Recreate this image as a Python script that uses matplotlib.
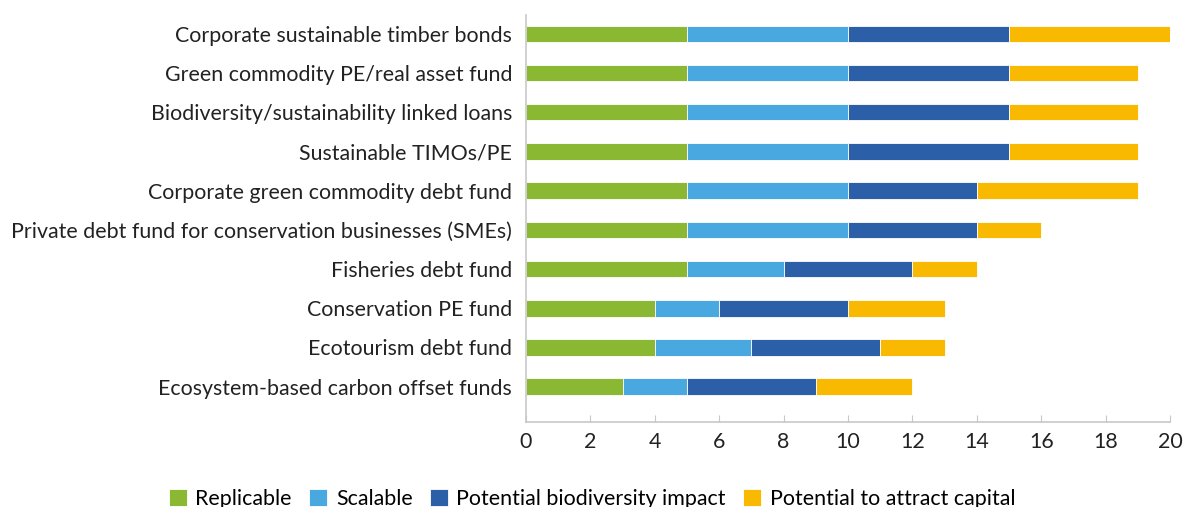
import numpy as np
import matplotlib.pyplot as plt

plt.rcParams['font.family'] = ['Lato', 'DejaVu Sans']

categories = [
    "Corporate sustainable timber bonds",
    "Green commodity PE/real asset fund",
    "Biodiversity/sustainability linked loans",
    "Sustainable TIMOs/PE",
    "Corporate green commodity debt fund",
    "Private debt fund for conservation businesses (SMEs)",
    "Fisheries debt fund",
    "Conservation PE fund",
    "Ecotourism debt fund",
    "Ecosystem-based carbon offset funds",
]
replicable = [5, 5, 5, 5, 5, 5, 5, 4, 4, 3]
scalable = [5, 5, 5, 5, 5, 5, 3, 2, 3, 2]
biodiversity = [5, 5, 5, 5, 4, 4, 4, 4, 4, 4]
capital = [5, 4, 4, 4, 5, 2, 2, 3, 2, 3]

series = [
    ("Replicable", replicable, "#8ab833"),
    ("Scalable", scalable, "#4aa8e0"),
    ("Potential biodiversity impact", biodiversity, "#2b5fa8"),
    ("Potential to attract capital", capital, "#f9b900"),
]

fig = plt.figure(figsize=(11.84, 5.07), dpi=100)
ax = fig.add_axes([0.4443, 0.1677, 0.5439, 0.8027])

y = np.arange(len(categories))
left = np.zeros(len(categories))
for name, vals, col in series:
    ax.barh(y, vals, left=left, height=0.42, color=col, label=name,
            edgecolor='white', linewidth=0.6)
    left += np.array(vals)

ax.set_ylim(len(categories) - 1 + 0.9, -0.48)
ax.set_xlim(0, 20)
ax.set_xticks(range(0, 21, 2))
ax.set_yticks(y)
ax.set_yticklabels(categories)

for s in ['top', 'right']:
    ax.spines[s].set_visible(False)
for s in ['left', 'bottom']:
    ax.spines[s].set_color('#c8c8c8')
    ax.spines[s].set_linewidth(1.2)
ax.tick_params(axis='y', length=0, labelsize=15.4, pad=10, colors='#222222')
ax.tick_params(axis='x', direction='in', length=5, color='#c8c8c8',
               labelsize=15.4, pad=7, labelcolor='#222222')

fig.legend(loc='lower center', bbox_to_anchor=(0.5, -0.042), ncol=4,
           frameon=False, fontsize=15.4, handlelength=0.85, handleheight=0.85,
           handletextpad=0.4, columnspacing=0.8)

fig.savefig('out.png', dpi=100)
